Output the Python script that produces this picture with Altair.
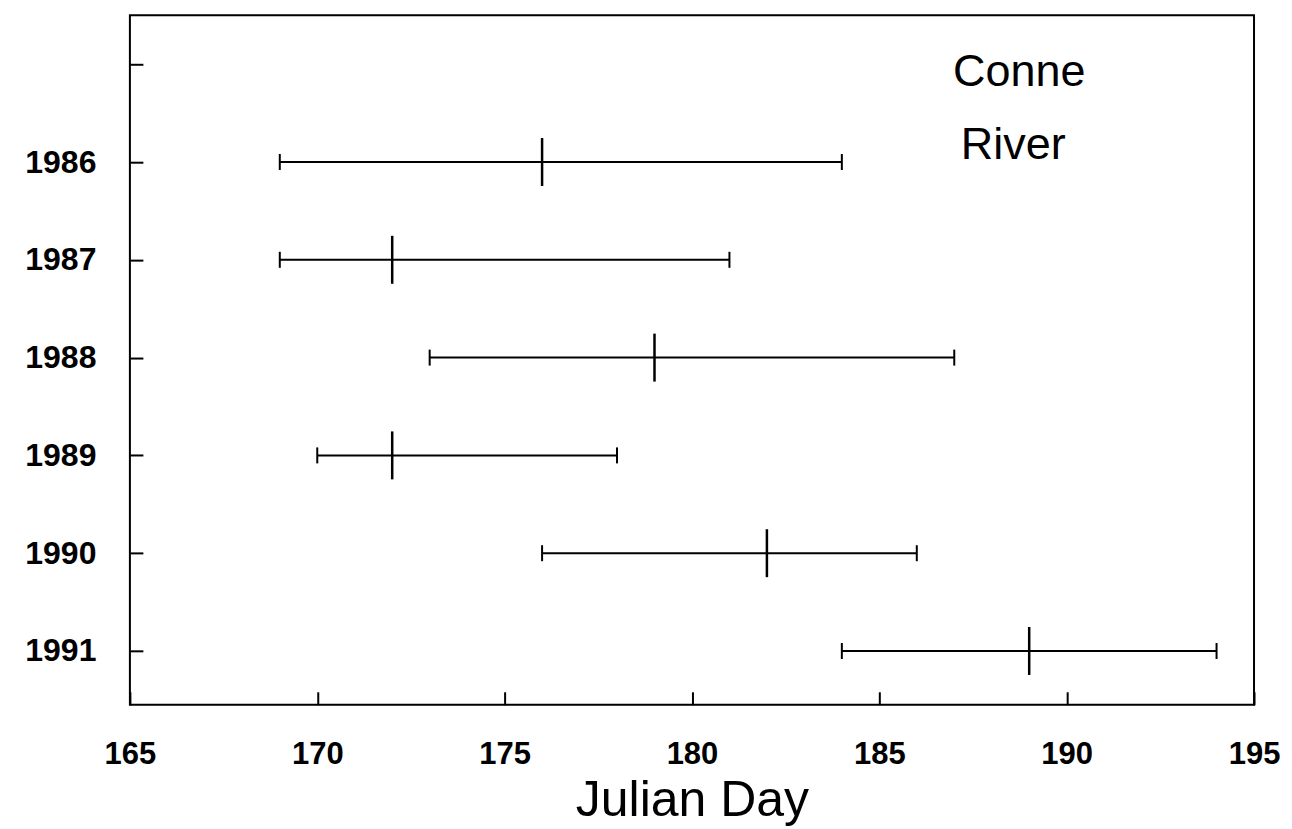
import altair as alt
import pandas as pd

years = [1986, 1987, 1988, 1989, 1990, 1991]
low = [169, 169, 173, 170, 176, 184]
mean = [176, 172, 179, 172, 182, 189]
high = [184, 181, 187, 178, 186, 194]

x_ticks = [165, 170, 175, 180, 185, 190, 195]
y_ticks = [1985, 1986, 1987, 1988, 1989, 1990, 1991]

df = pd.DataFrame({"year": years, "low": low, "mean": mean, "high": high})

FONT = "Liberation Sans"
W, H = 1125, 690

x_scale = alt.Scale(domain=[165, 195], nice=False, zero=False)
y_scale = alt.Scale(domain=[1984.5, 1991.55], reverse=True, nice=False, zero=False)

x_axis = alt.Axis(
    values=x_ticks, title="Julian Day", offset=-13, tickSize=13, tickWidth=2,
    tickColor="black", domain=False, grid=False, labelFont=FONT, labelFontSize=31,
    labelFontWeight="bold", labelColor="black", labelPadding=35, labelFlush=False,
    labelOverlap=False,
    titleFont=FONT, titleFontSize=50, titleFontWeight="normal", titleColor="black",
    titlePadding=6, format="d",
)
y_axis = alt.Axis(
    values=y_ticks, title=None, offset=-13, tickSize=13, tickWidth=2,
    tickColor="black", domain=False, grid=False, labelFont=FONT, labelFontSize=32,
    labelFontWeight="bold", labelColor="black", labelPadding=34, labelFlush=False,
    labelExpr="datum.value == 1985 ? '' : datum.label", format="d",
)

base = alt.Chart(df)

whisk = base.mark_rule(color="black", strokeWidth=2).encode(
    x=alt.X("low:Q", scale=x_scale, axis=x_axis),
    x2="high:Q",
    y=alt.Y("year:Q", scale=y_scale, axis=y_axis),
)
cap_lo = base.mark_tick(color="black", orient="vertical", size=16, thickness=2, opacity=1).encode(
    x=alt.X("low:Q", scale=x_scale), y=alt.Y("year:Q", scale=y_scale)
)
cap_hi = base.mark_tick(color="black", orient="vertical", size=16, thickness=2, opacity=1).encode(
    x=alt.X("high:Q", scale=x_scale), y=alt.Y("year:Q", scale=y_scale)
)
mid = base.mark_tick(color="black", orient="vertical", size=48, thickness=2.5, opacity=1).encode(
    x=alt.X("mean:Q", scale=x_scale), y=alt.Y("year:Q", scale=y_scale)
)

label1 = alt.Chart(pd.DataFrame({"t": ["Conne"]})).mark_text(
    font=FONT, fontSize=45, color="black", align="center", baseline="middle"
).encode(text="t:N", x=alt.value(890), y=alt.value(57))
label2 = alt.Chart(pd.DataFrame({"t": ["River"]})).mark_text(
    font=FONT, fontSize=45, color="black", align="center", baseline="middle"
).encode(text="t:N", x=alt.value(884), y=alt.value(130))

chart = (
    alt.layer(whisk, cap_lo, cap_hi, mid, label1, label2)
    .properties(
        width=W, height=H,
        autosize=alt.AutoSizeParams(type="none"),
        padding={"left": 122, "top": 7, "right": 30, "bottom": 125},
        background="white",
    )
    .configure_view(stroke="black", strokeWidth=2)
)

chart.save("out.html", embed_options={"renderer": "svg", "actions": False})
